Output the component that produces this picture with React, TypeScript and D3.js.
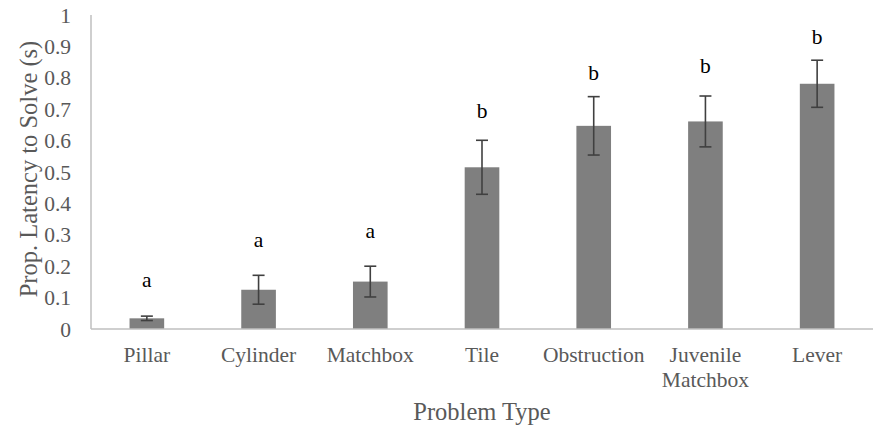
import { useEffect, useRef } from "react";
import * as d3 from "d3";

const categories = ["Pillar", "Cylinder", "Matchbox", "Tile", "Obstruction", "Juvenile Matchbox", "Lever"];
const means = [0.034, 0.125, 0.151, 0.515, 0.647, 0.661, 0.781];
const errors = [0.007, 0.046, 0.049, 0.086, 0.093, 0.081, 0.075];
const letters = ["a", "a", "a", "b", "b", "b", "b"];
const letterY = [0.134, 0.261, 0.29, 0.672, 0.793, 0.815, 0.908];
const yTicks = [0, 0.1, 0.2, 0.3, 0.4, 0.5, 0.6, 0.7, 0.8, 0.9, 1];

const W = 879;
const H = 432;
const font = "'Liberation Serif', 'Times New Roman', serif";

const Chart = () => {
  const svgRef = useRef<SVGSVGElement>(null);

  useEffect(() => {
    const svg = d3.select(svgRef.current);
    svg.selectAll("*").remove();

    const left = 91, right = 873, top = 15, bottom = 329;

    const x = d3.scaleBand<string>().domain(categories).range([left, right]).paddingInner(0.69).paddingOuter(0.345);
    const y = d3.scaleLinear().domain([0, 1]).range([bottom, top]);

    // y tick labels (no tick marks)
    svg.append("g")
      .selectAll("text")
      .data(yTicks)
      .join("text")
      .attr("x", 71)
      .attr("y", d => y(d))
      .attr("dy", "0.35em")
      .attr("text-anchor", "end")
      .attr("font-family", font)
      .attr("font-size", 21.5)
      .attr("fill", "#595959")
      .text(d => d3.format("")(d));

    // bars
    svg.append("g")
      .selectAll("rect")
      .data(categories)
      .join("rect")
      .attr("x", d => x(d)!)
      .attr("width", x.bandwidth())
      .attr("y", (d, i) => y(means[i]))
      .attr("height", (d, i) => y(0) - y(means[i]))
      .attr("fill", "#7f7f7f");

    // error bars
    const eb = svg.append("g").attr("stroke", "#404040").attr("stroke-width", 1.6);
    categories.forEach((c, i) => {
      const cx = x(c)! + x.bandwidth() / 2;
      const y1 = y(means[i] + errors[i]);
      const y2 = y(means[i] - errors[i]);
      eb.append("line").attr("x1", cx).attr("x2", cx).attr("y1", y1).attr("y2", y2);
      eb.append("line").attr("x1", cx - 6).attr("x2", cx + 6).attr("y1", y1).attr("y2", y1);
      eb.append("line").attr("x1", cx - 6).attr("x2", cx + 6).attr("y1", y2).attr("y2", y2);
    });

    // axes lines
    svg.append("line")
      .attr("x1", left).attr("x2", left).attr("y1", top).attr("y2", bottom)
      .attr("stroke", "#bfbfbf").attr("stroke-width", 1.5);
    svg.append("line")
      .attr("x1", left).attr("x2", right).attr("y1", bottom).attr("y2", bottom)
      .attr("stroke", "#bfbfbf").attr("stroke-width", 1.5);

    // significance letters
    svg.append("g")
      .selectAll("text")
      .data(categories)
      .join("text")
      .attr("x", d => x(d)! + x.bandwidth() / 2)
      .attr("y", (d, i) => y(letterY[i]))
      .attr("text-anchor", "middle")
      .attr("font-family", font)
      .attr("font-size", 21.5)
      .attr("fill", "#000")
      .text((d, i) => letters[i]);

    // category labels
    const cat = svg.append("g")
      .selectAll("text")
      .data(categories)
      .join("text")
      .attr("x", d => x(d)! + x.bandwidth() / 2)
      .attr("y", 362)
      .attr("text-anchor", "middle")
      .attr("font-family", font)
      .attr("font-size", 21.5)
      .attr("fill", "#595959");
    cat.each(function (d) {
      const words = d === "Juvenile Matchbox" ? d.split(" ") : [d];
      const t = d3.select(this);
      words.forEach((w, k) => {
        t.append("tspan").attr("x", t.attr("x")).attr("dy", k === 0 ? 0 : 25).text(w);
      });
    });

    // axis titles
    svg.append("text")
      .attr("x", (left + right) / 2)
      .attr("y", 420)
      .attr("text-anchor", "middle")
      .attr("font-family", font)
      .attr("font-size", 24.5)
      .attr("fill", "#595959")
      .text("Problem Type");

    svg.append("text")
      .attr("transform", `translate(37, ${(top + bottom) / 2 - 3}) rotate(-90)`)
      .attr("text-anchor", "middle")
      .attr("font-family", font)
      .attr("font-size", 24.5)
      .attr("fill", "#595959")
      .text("Prop. Latency to Solve (s)");
  }, []);

  return <svg ref={svgRef} width={W} height={H} style={{ display: "block", background: "#fff" }} />;
};

export default function App() {
  return (
    <div style={{ position: "absolute", left: 0, top: 0 }}>
      <Chart />
    </div>
  );
}
